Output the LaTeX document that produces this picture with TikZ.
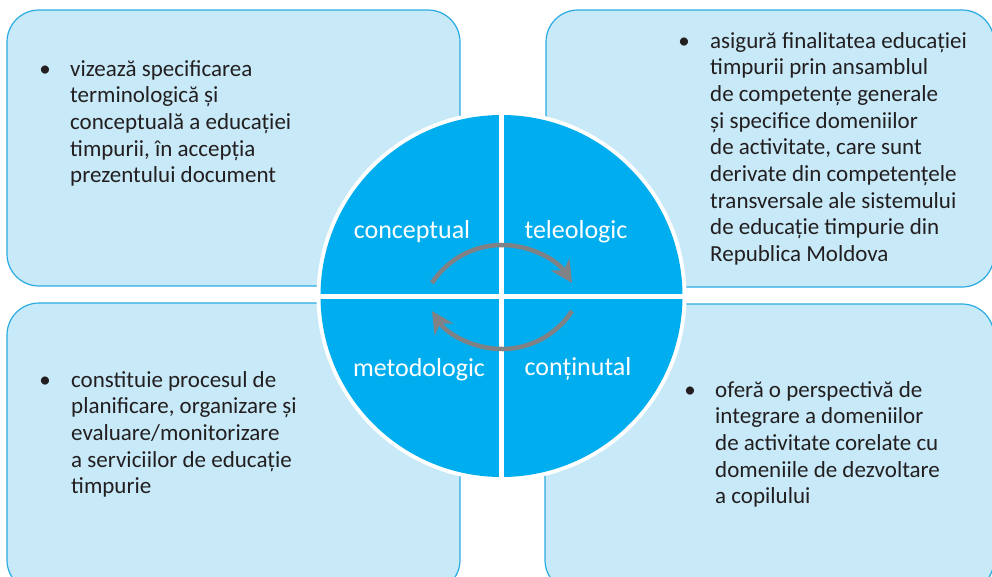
\documentclass[tikz,border=0pt]{standalone}
\usepackage{fontspec}
\setmainfont{Carlito}
\usetikzlibrary{arrows.meta}
\definecolor{boxfill}{HTML}{C7E9F8}
\definecolor{boxline}{HTML}{29ABE2}
\definecolor{circ}{HTML}{00AEEF}
\definecolor{arrowgray}{HTML}{808285}
\definecolor{txt}{HTML}{231F20}
\begin{document}
\begin{tikzpicture}[x=1pt,y=-1pt,
  infobox/.style={draw=boxline, line width=1.2pt, fill=boxfill, rounded corners=32pt},
  body/.style={font=\fontsize{23}{26.7}\selectfont, text=txt, align=left, inner sep=0pt, anchor=base west},
  bul/.style={font=\fontsize{23}{26.7}\selectfont, text=txt, inner sep=0pt, anchor=base},
  quad/.style={font=\fontsize{26}{30}\selectfont, text=white, inner sep=0pt, anchor=base},
  cyc/.style={draw=arrowgray, line width=4.5pt, -{Stealth[length=22pt,width=22pt,inset=7pt]}}
]
\useasboundingbox (0,0) rectangle (992,576);
% boxes
\draw[infobox] (7,10) rectangle (460,286);
\draw[infobox] (546,10) rectangle (994,287);
\draw[infobox] (7,303) rectangle (460,592);
\draw[infobox] (545,304) rectangle (994,592);
% circle
\coordinate (c) at (501.5,296);
\fill[white] (c) circle[radius=185];
\fill[circ] (c) circle[radius=181];
\draw[white, line width=5pt] (501.5,114) -- (501.5,478);
\draw[white, line width=5pt] (320,296) -- (683,296);
% labels
\node[quad] (conc) at (412,238) {conceptual};
\node[quad] (tele) at (576,238) {teleologic};
\node[quad] (meto) at (419,376) {metodologic};
\node[quad] (cont) at (578,375) {conținutal};
% cycle arrows
\coordinate (a1s) at (432,283);
\coordinate (a2s) at (572,311);
\draw[cyc] (a1s) arc[start angle=-147, end angle=-33, radius=83.5];
\draw[cyc] (a2s) arc[start angle=33, end angle=147, radius=83.5];
% texts (base anchor = last line baseline)
\node[bul] (b1) at (45,76) {•};
\node[body] (t1) at (70,182.8) {vizează specificarea\\terminologică și\\conceptuală a educației\\timpurii, în accepția\\prezentului document};
\node[bul] (b2) at (684,48) {•};
\node[body] (t2) at (710,261.6) {asigură finalitatea educației\\timpurii prin ansamblul\\de competențe generale\\și specifice domeniilor\\de activitate, care sunt\\derivate din competențele\\transversale ale sistemului\\de educație timpurie din\\Republica Moldova};
\node[bul] (b3) at (45,387) {•};
\node[body] (t3) at (71,493.8) {constituie procesul de\\planificare, organizare și\\evaluare/monitorizare\\a serviciilor de educație\\timpurie};
\node[bul] (b4) at (690,397) {•};
\node[body] (t4) at (715,503.8) {oferă o perspectivă de\\integrare a domeniilor\\de activitate corelate cu\\domeniile de dezvoltare\\a copilului};
\end{tikzpicture}
\end{document}
